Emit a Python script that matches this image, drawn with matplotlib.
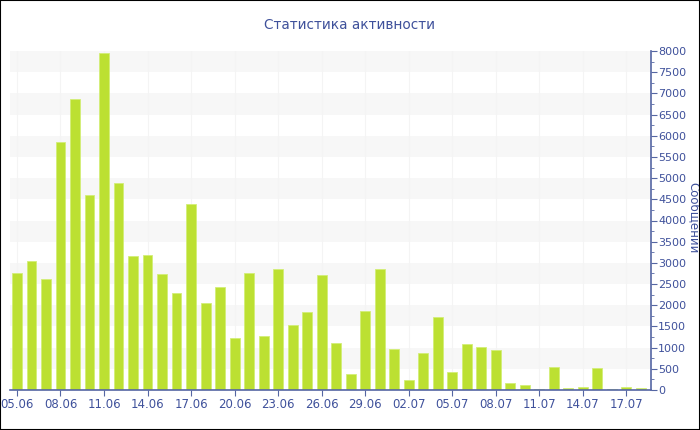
import matplotlib
matplotlib.use("Agg")
import matplotlib.pyplot as plt
from matplotlib.patches import Rectangle
import datetime as dt

# daily message counts, 05.06 .. 18.07
start = dt.date(2000, 6, 5)
counts = [2750, 3050, 2620, 5860, 6870, 4610, 7950, 4890, 3160, 3190,
          2740, 2300, 4390, 2050, 2430, 1230, 2750, 1280, 2850, 1540,
          1830, 2710, 1105, 380, 1860, 2850, 975, 236, 873, 1715,
          433, 1093, 1007, 936, 157, 126, 31, 543, 47, 63,
          527, 16, 63, 39]
days = [(start + dt.timedelta(days=i)).strftime("%d.%m") for i in range(len(counts))]

blue = "#3f519b"
axis_col = "#5566a3"
bar_col = "#bce032"

fig = plt.figure(figsize=(7, 4.3), dpi=100)
ax = fig.add_axes([10/700, 40/430, 641/700, 339/430])

# alternating bands
for lo in range(500, 8000, 1000):
    ax.axhspan(lo, lo + 500, color="#f7f7f7", zorder=0, lw=0)

x = list(range(len(counts)))
ax.bar(x, counts, width=0.68, color=bar_col, edgecolor="#d3ee77", linewidth=0.6, zorder=2)

major = x[::3]
for m in major:
    ax.axvline(m, color="#f4f4f4", lw=0.8, zorder=1)
ax.set_xticks(major)
ax.set_xticklabels([days[i] for i in major])
ax.set_xticks(x, minor=True)
ax.set_xlim(-0.48, len(counts) - 0.3)

ax.set_ylim(0, 8000)
ax.set_yticks(range(0, 8001, 500))
ax.set_yticks(range(250, 8000, 500), minor=True)
ax.yaxis.tick_right()

for s in ["top", "left"]:
    ax.spines[s].set_visible(False)
for s in ["bottom", "right"]:
    ax.spines[s].set_color(axis_col)
    ax.spines[s].set_linewidth(1.2)

ax.tick_params(axis="both", which="both", colors=axis_col, labelcolor=blue, labelsize=8)
ax.tick_params(axis="x", labelsize=8.5)
ax.tick_params(axis="y", which="major", length=4, pad=1)
ax.tick_params(axis="y", which="minor", length=2)
ax.tick_params(axis="x", which="major", length=4, pad=2)
ax.tick_params(axis="x", which="minor", length=0)

fig.text(0.499, 1 - 25/430, "Статистика активности", ha="center", va="center",
         fontsize=9.8, color=blue)
fig.text(694/700, 1 - 218/430, "Сообщений", rotation=270, ha="center", va="center",
         fontsize=8.5, color=blue)

fig.patches.append(Rectangle((0, 0), 1, 1, transform=fig.transFigure, fill=False,
                             edgecolor="black", linewidth=1.5, zorder=10))

fig.savefig("out.png", dpi=100)
